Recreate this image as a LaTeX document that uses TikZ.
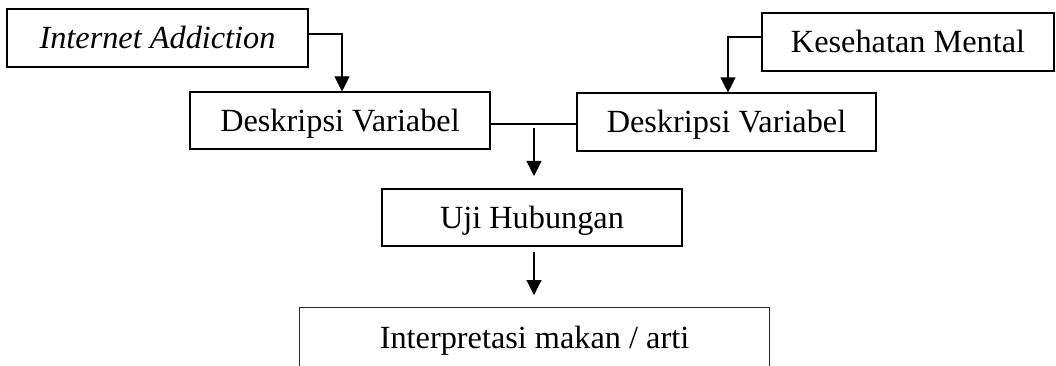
\documentclass[tikz,border=0pt]{standalone}
\usepackage{fontspec}
\setmainfont{Liberation Serif}
\usetikzlibrary{arrows.meta}
\tikzset{
  boxnode/.style={draw=black, line width=1.1pt, rectangle, inner sep=0pt, align=center, text height=30pt, text depth=8pt, font=\fontsize{32.3}{38}\selectfont},
  plainnode/.style={inner sep=0pt, align=center, text height=30pt, text depth=8pt, font=\fontsize{32.3}{38}\selectfont},
  conn/.style={line width=1.1pt, draw=black},
  arr/.style={conn, -{Triangle[width=15pt,length=15pt]}}
}
\begin{document}
\begin{tikzpicture}[x=1pt,y=-1pt]
\useasboundingbox (0,0) rectangle (1056,366);
\node[boxnode, minimum width=301pt, minimum height=58pt] (b1) at (157.5,38) {\itshape Internet Addiction};
\node[boxnode, minimum width=292pt, minimum height=58pt] (b2) at (908,42) {Kesehatan Mental};
\node[boxnode, minimum width=300pt, minimum height=57pt] (b3) at (340,120.5) {Deskripsi Variabel};
\node[boxnode, minimum width=299pt, minimum height=58pt] (b4) at (726.5,122) {Deskripsi Variabel};
\node[boxnode, minimum width=300pt, minimum height=57pt] (b5) at (532,217.5) {Uji Hubungan};
\node[plainnode, minimum width=469pt, minimum height=58pt] (b6) at (534.5,337) {Interpretasi makan / arti};
\draw[line width=1.2pt, draw=black!85] (b6.south west) -- (b6.north west) -- (b6.north east) -- (b6.south east);
\draw[arr] ([yshift=4pt]b1.east) -| ([xshift=2pt]b3.north);
\draw[arr] ([yshift=5pt]b2.west) -| ([xshift=1.5pt]b4.north);
\draw[conn] ([yshift=-3.5pt]b3.east) -- ([yshift=-2pt]b4.west);
\coordinate (m1) at (534,128);
\coordinate (m2) at (534,176);
\coordinate (m3) at (534,252);
\coordinate (m4) at (534,295);
\draw[arr] (m1) -- (m2);
\draw[arr] (m3) -- (m4);
\end{tikzpicture}
\end{document}
